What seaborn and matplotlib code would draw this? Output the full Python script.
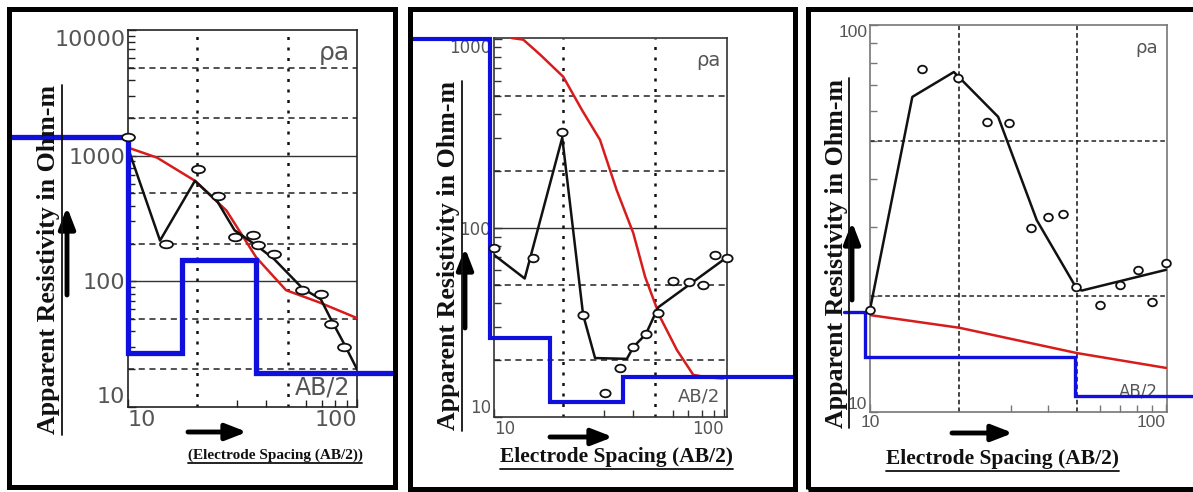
import numpy as np
import pandas as pd
import matplotlib
matplotlib.use("Agg")
import matplotlib.pyplot as plt
import seaborn as sns
from matplotlib.patches import Rectangle
from matplotlib.lines import Line2D
from matplotlib.markers import MarkerStyle
from matplotlib.transforms import Affine2D
from matplotlib.ticker import FixedLocator, NullFormatter, FixedFormatter

# ---------------- data ----------------
# Panel 1
p1_obs_x = [10, 14.7, 20.2, 24.6, 29.2, 35, 36.8, 43.5, 57.8, 69.5, 76.9, 87.7]
p1_obs_y = [1400, 200, 790, 480, 224, 232, 193, 164, 85, 80, 46, 30]
p1_calc_x = [10, 13.8, 19.6, 24.6, 29.2, 36.8, 43.5, 57.8, 69.5, 76.9, 87.7, 100]
p1_calc_y = [1150, 211, 631, 430, 255, 190, 150, 88, 72, 50, 32, 20]
p1_red_x = [10, 13.4, 19.6, 26.9, 36.3, 49, 68.4, 100]
p1_red_y = [1160, 964, 631, 366, 155, 85, 68, 51]
p1_model_x = [3.13, 10, 17.2, 36.4, 142]
p1_model_y = [1400, 26.8, 147, 18.6, 18.6]

# Panel 2
p2_obs_x = [10, 14.8, 19.8, 24.4, 30.4, 35.3, 40.4, 45.7, 51.7, 60, 70.5, 81, 91.4, 103]
p2_obs_y = [78, 69, 323, 34.7, 13.4, 18.2, 23.5, 27.4, 35.5, 52.5, 51.9, 49.9, 72, 69]
p2_calc_x = [10, 13.6, 19.8, 24.4, 27.5, 37.8, 40.4, 45.7, 51.7, 103]
p2_calc_y = [72, 54, 300, 34.7, 20.5, 20.3, 23.5, 27.4, 38, 70]
p2_red_x = [11.9, 13.4, 15.9, 20, 24.1, 28.9, 34.1, 40.3, 45.4, 52.7, 62.4, 73.5, 85, 99]
p2_red_y = [1010, 990, 823, 630, 421, 292, 159, 94, 55, 33.8, 22.6, 16.7, 16.2, 16]
p2_model_x = [4.45, 9.6, 17.5, 36.3, 200]
p2_model_y = [1000, 26.2, 12, 16.3, 16.3]

# Panel 3
p3_obs_x = [10, 15, 19.9, 24.8, 29.5, 34.9, 39.8, 45, 49.7, 59.8, 70, 80.4, 89.5, 100]
p3_obs_y = [18.4, 77, 72.8, 56, 55.8, 29.8, 32, 32.4, 21, 18.9, 21.3, 23.3, 19.2, 24.3]
p3_calc_x = [10, 13.9, 19.2, 27.1, 36.6, 50, 52, 100]
p3_calc_y = [18.4, 65.2, 75.6, 57.9, 31.3, 20.8, 20.6, 23.3]
p3_red_x = [10, 20.1, 50, 100]
p3_red_y = [17.8, 16.5, 14.2, 13]
p3_model_x = [8.2, 9.6, 49.3, 123]
p3_model_y = [18.1, 13.9, 11, 11]

# tick / grid values
xticks = [10, 100]
xminor = [30, 40, 60, 70, 80, 90]
p1_yticks = [10, 100, 1000, 10000]
p2_yticks = [10, 100, 1000]
p3_yticks = [10, 100]
grid_v = [20, 50]

ylabel_text = "Apparent Resistivity in Ohm-m"
xlabel_texts = ["(Electrode Spacing (AB/2))", "Electrode Spacing (AB/2)", "Electrode Spacing (AB/2)"]

# ---------------- style ----------------
sns.set_style("white")
plt.rcParams["font.family"] = ["DejaVu Sans"]

W, H = 1193, 492
fig = plt.figure(figsize=(W / 100, H / 100), dpi=100)
fig.patch.set_facecolor("white")

BLUE = "#1010dc"
RED = "#d81c1c"
GRAY = "#555555"


def fbox(l, t, r, b):
    return [l / W, (H - b) / H, (r - l) / W, (b - t) / H]


def yminor_for(lo, hi):
    vals = []
    d = lo
    while d < hi:
        for k in range(2, 10):
            vals.append(k * d)
        d *= 10
    return vals


panels = [
    dict(box=(128, 30, 357, 407), xlim=(10, 100), ylim=(10, 10000), yticks=p1_yticks,
         obs=(p1_obs_x, p1_obs_y), calc=(p1_calc_x, p1_calc_y), red=(p1_red_x, p1_red_y),
         model=(p1_model_x, p1_model_y), blue_lw=3.8, msc=(1.7, 1.0), ms=30,
         solid_h=[100, 1000], dash_h=[20, 50, 200, 500, 2000, 5000], vstyle=(0, (1.2, 3.0)),
         tick_fs=16, tick_family=["DejaVu Sans"], spine="#222222", text_fs=17,
         first_xha="left"),
    dict(box=(494, 38, 727, 417), xlim=(10, 103), ylim=(10, 1010), yticks=p2_yticks,
         obs=(p2_obs_x, p2_obs_y), calc=(p2_calc_x, p2_calc_y), red=(p2_red_x, p2_red_y),
         model=(p2_model_x, p2_model_y), blue_lw=3.0, msc=(1.35, 1.0), ms=30,
         solid_h=[100], dash_h=[20, 50, 200, 500], vstyle=(0, (1.2, 3.0)),
         tick_fs=12, tick_family=["DejaVu Sans"], spine="#333333", text_fs=13,
         first_xha="left"),
    dict(box=(870, 25, 1167, 412), xlim=(10, 100.8), ylim=(10, 100), yticks=p3_yticks,
         obs=(p3_obs_x, p3_obs_y), calc=(p3_calc_x, p3_calc_y), red=(p3_red_x, p3_red_y),
         model=(p3_model_x, p3_model_y), blue_lw=2.4, msc=(1.15, 1.0), ms=30,
         solid_h=[], dash_h=[20, 50], vstyle=(0, (3, 2)),
         tick_fs=12.5, tick_family=["Liberation Sans Narrow", "Liberation Sans", "DejaVu Sans"],
         spine="#777777", text_fs=12, first_xha="center"),
]

axes = []
for i, p in enumerate(panels):
    ax = fig.add_axes(fbox(*p["box"]))
    axes.append(ax)
    ax.set_xscale("log")
    ax.set_yscale("log")
    ax.set_xlim(*p["xlim"])
    ax.set_ylim(*p["ylim"])
    ax.set_facecolor("white")

    # grid
    for v in p["solid_h"]:
        ax.axhline(v, color="#333333", lw=1.0, zorder=1)
    hstyle = (0, (4, 3)) if i < 2 else (0, (3, 2))
    for v in p["dash_h"]:
        ax.axhline(v, color="#222222", lw=1.1, ls=hstyle, zorder=1)
    for v in grid_v:
        ax.axvline(v, color="#111111", lw=1.8 if i < 2 else 1.1, ls=p["vstyle"], zorder=1)

    # model (blue step)
    sns.lineplot(x=p["model"][0], y=p["model"][1], ax=ax, color=BLUE, lw=p["blue_lw"],
                 drawstyle="steps-post", sort=False, estimator=None, clip_on=False,
                 zorder=6, solid_joinstyle="miter")
    # red curve
    sns.lineplot(x=p["red"][0], y=p["red"][1], ax=ax, color=RED, lw=1.8,
                 sort=False, estimator=None, zorder=4)
    # black calculated curve
    sns.lineplot(x=p["calc"][0], y=p["calc"][1], ax=ax, color="#111111", lw=1.8,
                 sort=False, estimator=None, zorder=5)
    # observed circles
    mk = MarkerStyle("o", transform=Affine2D().scale(*p["msc"]))
    sns.scatterplot(x=p["obs"][0], y=p["obs"][1], ax=ax, marker=mk, s=p["ms"],
                    color="white", edgecolor="#111111", linewidth=1.3, zorder=7,
                    clip_on=False)

    # ticks
    ax.xaxis.set_major_locator(FixedLocator(xticks))
    ax.xaxis.set_major_formatter(FixedFormatter([str(t) for t in xticks]))
    ax.xaxis.set_minor_locator(FixedLocator(xminor))
    ax.xaxis.set_minor_formatter(NullFormatter())
    ax.yaxis.set_major_locator(FixedLocator(p["yticks"]))
    ax.yaxis.set_major_formatter(FixedFormatter([str(t) for t in p["yticks"]]))
    ax.yaxis.set_minor_locator(FixedLocator(yminor_for(p["ylim"][0], p["ylim"][1])))
    ax.yaxis.set_minor_formatter(NullFormatter())
    ax.tick_params(axis="x", which="both", bottom=True, top=False)
    ax.tick_params(axis="y", which="both", left=True, right=False)
    ax.tick_params(axis="both", which="major", direction="in", length=6, width=1,
                   colors=p["spine"], labelcolor=GRAY, labelsize=p["tick_fs"], pad=2)
    ax.tick_params(axis="both", which="minor", direction="in", length=5, width=1,
                   colors=p["spine"])
    for lab in ax.get_xticklabels() + ax.get_yticklabels():
        lab.set_family(p["tick_family"])
    ylabs = ax.get_yticklabels()
    ylabs[0].set_va("bottom")
    ylabs[-1].set_va("top")
    xlabs = ax.get_xticklabels()
    xlabs[0].set_ha(p["first_xha"])
    xlabs[-1].set_ha("right")
    for s in ax.spines.values():
        s.set_color(p["spine"])
        s.set_linewidth(1.2)
    ax.set_xlabel("")
    ax.set_ylabel("")

    # in-plot annotations
    ax.text(0.97, 0.94, "ρa", transform=ax.transAxes, ha="right", va="center",
            color=GRAY, fontsize=p["text_fs"] + 1)
    ax.text(0.97, 0.053, "AB/2", transform=ax.transAxes, ha="right",
            va="center", color=GRAY, fontsize=p["text_fs"], zorder=3)

# frames around each panel (figure pixels)
frames = [(9, 9, 395, 487), (410, 9, 795, 489), (808, 9, 1230, 489)]
for (l, t, r, b) in frames:
    fig.add_artist(Rectangle((l / W, (H - b) / H), (r - l) / W, (b - t) / H,
                             transform=fig.transFigure, fill=False, ec="black", lw=3.6,
                             zorder=20))

# labels
ylab_pos = [(49, 260), (449, 256), (836, 253)]
xlab_pos = [(275, 455), (616, 457), (1002, 459)]
xlab_fs = [11, 15.5, 15.5]
ylab_artists, xlab_artists = [], []
for i in range(3):
    tx, ty = ylab_pos[i]
    t = fig.text(tx / W, (H - ty) / H, ylabel_text, rotation=90, ha="center", va="center",
                 family=["Liberation Serif", "DejaVu Serif"], weight="bold", fontsize=18.6,
                 color="#111111")
    ylab_artists.append(t)
    tx, ty = xlab_pos[i]
    t = fig.text(tx / W, (H - ty) / H, xlabel_texts[i], ha="center", va="center",
                 family=["Liberation Serif", "DejaVu Serif"], weight="bold",
                 fontsize=xlab_fs[i], color="#111111")
    xlab_artists.append(t)

# arrows (figure pixels from top-left converted)
up_arrows = [(67, 295, 207), (465, 328, 248), (852, 300, 222)]
right_arrows = [(188, 247, 432), (550, 613, 437), (952, 1013, 433)]
for (x, y0, y1) in up_arrows:
    axes[0].annotate("", xy=(x, H - y1), xytext=(x, H - y0), xycoords="figure pixels",
                     textcoords="figure pixels", annotation_clip=False,
                     arrowprops=dict(arrowstyle="-|>,head_width=0.35,head_length=0.9",
                                     lw=3.5, color="black", mutation_scale=14,
                                     shrinkA=0, shrinkB=0))
for (x0, x1, y) in right_arrows:
    axes[0].annotate("", xy=(x1, H - y), xytext=(x0, H - y), xycoords="figure pixels",
                     textcoords="figure pixels", annotation_clip=False,
                     arrowprops=dict(arrowstyle="-|>,head_width=0.35,head_length=0.9",
                                     lw=3.5, color="black", mutation_scale=14,
                                     shrinkA=0, shrinkB=0))

# underlines
fig.canvas.draw()
r = fig.canvas.get_renderer()
inv = fig.transFigure.inverted()
for t in ylab_artists:
    bb = t.get_window_extent(r)
    (x0, y0), (x1, y1) = inv.transform([(bb.x1 + 1.5, bb.y0), (bb.x1 + 1.5, bb.y1)])
    fig.add_artist(Line2D([x0, x1], [y0, y1], transform=fig.transFigure, color="#111111", lw=1.3))
for t in xlab_artists:
    bb = t.get_window_extent(r)
    (x0, y0), (x1, y1) = inv.transform([(bb.x0, bb.y0 - 1.5), (bb.x1, bb.y0 - 1.5)])
    fig.add_artist(Line2D([x0, x1], [y0, y1], transform=fig.transFigure, color="#111111", lw=1.3))

fig.savefig("out.png", dpi=100, facecolor="white")
